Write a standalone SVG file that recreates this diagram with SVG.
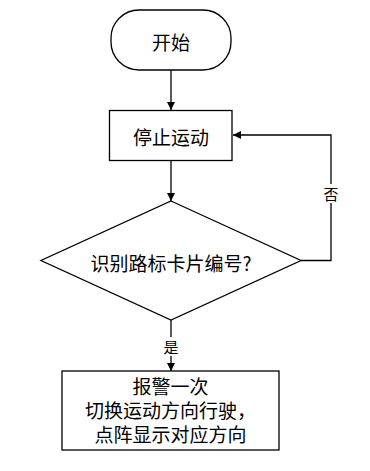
<svg xmlns="http://www.w3.org/2000/svg" width="370" height="471" viewBox="0 0 370 471">
<defs>
<marker id="ah" viewBox="0 0 10 10" refX="10" refY="5" markerWidth="8" markerHeight="8" markerUnits="userSpaceOnUse" orient="auto">
<path d="M0,0 L10,5 L0,10 Z" fill="#000"/>
</marker>
</defs>
<style>
.n{fill:#fff;stroke:#000;stroke-width:1.3}
.t{font-family:"Noto Sans CJK SC","Noto Sans",sans-serif;font-size:19px;fill:#000;text-anchor:middle;dominant-baseline:central}
.m{font-family:"Liberation Sans","Noto Sans CJK SC",sans-serif;font-size:19px;fill:#000;text-anchor:middle}
.l{font-family:"Noto Sans CJK SC","Noto Sans",sans-serif;font-size:15px;fill:#000;text-anchor:middle;dominant-baseline:central}
.c{fill:none;stroke:#000;stroke-width:1.3}
</style>
<rect width="370" height="471" fill="#fff"/>
<g id="connectors">
<line class="c" x1="171" y1="70" x2="171" y2="110" marker-end="url(#ah)"/>
<line class="c" x1="171" y1="161" x2="171" y2="201" marker-end="url(#ah)"/>
<polyline class="c" points="301,260.5 331,260.5 331,135 233,135" marker-end="url(#ah)"/>
<line class="c" x1="171" y1="320" x2="171" y2="371" marker-end="url(#ah)"/>
<rect x="323" y="184" width="16" height="19" fill="#fff"/>
<text class="l" x="331" y="193">否</text>
<rect x="163" y="337" width="16" height="19" fill="#fff"/>
<text class="l" x="171" y="346">是</text>
</g>
<g id="start">
<rect class="n" x="111" y="10" width="120" height="60" rx="28" ry="28"/>
<text class="t" x="171" y="41">开始</text>
</g>
<g id="stop">
<rect class="n" x="109.5" y="110.5" width="122.5" height="50"/>
<text class="t" x="171" y="136">停止运动</text>
</g>
<g id="decision">
<polygon class="n" points="171,201 301,260.5 171,320 41,260.5"/>
<text class="t" x="171" y="262">识别路标卡片编号?</text>
</g>
<g id="action">
<rect class="n" x="62" y="371" width="217" height="79"/>
<text class="m"><tspan x="170.5" y="394">报警一次</tspan><tspan x="170.5" y="418">切换运动方向行驶，</tspan><tspan x="170.5" y="442">点阵显示对应方向</tspan></text>
</g>
</svg>
